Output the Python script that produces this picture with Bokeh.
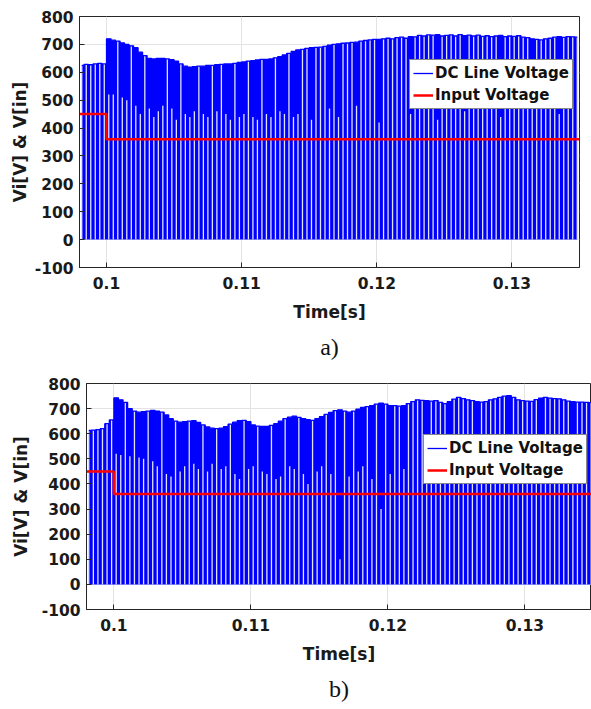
import numpy as np
from bokeh.plotting import figure
from bokeh.models import (Range1d, FixedTicker, Legend, LegendItem, Title)
from bokeh.embed import file_html
from bokeh.resources import INLINE

# ---------------- data ----------------
t_start = 0.098          # first switching slot [s]
period = 1.0 / 3000.0    # switching slot length [s]

# a) DC line voltage peak per switching slot (3 per ms), 0.098 .. 0.135 s
peak_a = [
    625, 628, 627,  630, 632, 630,  720, 715, 712,  705, 700, 695,
    688, 672, 660,  650, 648, 650,  650, 648, 645,  640, 630, 622,
    618, 620, 622,  622, 625, 625,  627, 628, 630,  630, 632, 635,
    637, 640, 642,  644, 646, 646,  648, 652, 656,  662, 668, 675,
    680, 682, 686,  688, 689, 690,  693, 697, 700,  702, 704, 705,
    707, 708, 712,  714, 716, 718,  718, 720, 722,  720, 724, 726,
    722, 728, 727,  732, 730, 734,  733, 735, 730,  732, 734, 730,
    735, 731, 733,  730, 733, 729,  731, 728, 730,  732, 728, 730,
    729, 731, 726,  724, 720, 718,  716, 720, 722,  726, 728, 725,
    728, 727, 726,
]
# a) intermediate level reached inside a slot (0 = falls straight to zero)
dip_a = [
    0, 0, 0,  0, 0, 0,  520, 520, 0,  510, 500, 0,
    480, 450, 0,  470, 440, 460,  480, 0, 470,  430, 0, 450,
    440, 460, 0,  450, 440, 0,  460, 0, 450,  430, 0, 440,
    450, 0, 440,  430, 0, 450,  440, 0, 460,  450, 0, 440,
    450, 0, 0,  430, 0, 0,  0, 470, 0,  440, 0, 0,
    0, 480, 0,  0, 0, 0,  420, 0, 0,  0, 0, 0,
    0, 450, 0,  0, 0, 0,  0, 430, 0,  0, 0, 0,
    0, 460, 0,  0, 0, 0,  0, 0, 0,  440, 0, 0,
    0, 0, 0,  0, 470, 0,  0, 0, 0,  0, 450, 0,
    0, 0, 0,
]

# b) DC line voltage peak per switching slot
peak_b = [
    613, 614, 616,  620, 640, 655,  743, 735, 725,  700, 690, 686,
    688, 690, 693,  690, 686, 675,  660, 650, 646,  648, 650, 652,
    645, 635, 627,  622, 620, 622,  628, 638, 646,  652, 653, 648,
    635, 630, 629,  629, 633, 640,  650, 660, 666,  670, 665, 660,
    656, 653, 660,  668, 677, 685,  692, 695, 690,  686, 690, 698,
    705, 708, 712,  718, 722, 718,  712, 712, 710,  712, 720, 728,
    735, 733, 732,  730, 732, 725,  720, 728, 738,  745, 740, 735,
    732, 728, 726,  728, 735, 739,  745, 750, 752,  745, 735, 732,
    730, 729, 736,  742, 745, 742,  740, 739, 735,  730, 728, 726,
    726, 725, 724,
]
dip_b = [
    0, 0, 0,  0, 0, 0,  520, 515, 0,  510, 0, 505,
    500, 0, 490,  470, 0, 440,  430, 0, 450,  470, 0, 480,
    460, 0, 450,  480, 0, 460,  470, 0, 440,  420, 0, 460,
    470, 0, 450,  440, 0, 420,  430, 0, 470,  460, 0, 440,
    400, 0, 450,  470, 0, 440,  0, 100, 0,  430, 0, 450,
    470, 0, 420,  0, 300, 0,  440, 0, 0,  460, 0, 0,
    0, 0, 450,  0, 0, 0,  0, 460, 0,  0, 0, 0,
    0, 450, 0,  0, 0, 0,  0, 0, 470,  0, 0, 0,
    0, 0, 0,  460, 0, 0,  0, 0, 0,  0, 440, 0,
    0, 0, 0,
]

# Input voltage step
input_t = [0.098, 0.100, 0.135]
input_v = [450, 360, 360]

x_ticks = [0.10, 0.11, 0.12, 0.13]
x_tick_labels = ["0.1", "0.11", "0.12", "0.13"]
y_ticks = [-100, 0, 100, 200, 300, 400, 500, 600, 700, 800]
y_tick_labels = ["-100", "0", "100", "200", "300", "400", "500", "600", "700", "800"]

BLUE = "#0000ff"
RED = "#ff0000"
AX = "#262626"
FONT = "DejaVu Sans"


def make_panel(peaks, dips, width, height, borders, x_end, ylab_standoff,
               legend_loc, tag):
    n = len(peaks)
    t = t_start + (np.arange(n) + 0.5) * period
    peaks = np.array(peaks, dtype=float)
    dips = np.array(dips, dtype=float)
    gap_top = np.where(dips > 0, dips, peaks)

    left, right, top, bottom = borders
    p = figure(width=width, height=height, output_backend="svg",
               toolbar_location=None,
               x_range=Range1d(0.098, x_end), y_range=Range1d(-100, 800),
               min_border_left=left, min_border_right=right,
               min_border_top=top, min_border_bottom=bottom)
    p.background_fill_color = "white"
    p.border_fill_color = "white"
    p.outline_line_color = AX
    p.outline_line_width = 1

    # blue switching waveform
    p.varea_step(x=t, y1=np.zeros(n), y2=peaks, step_mode="center",
                 fill_color=BLUE)
    p.segment(x0=t, y0=np.zeros(n), x1=t, y1=gap_top,
              line_color="#dfe2ff", line_width=1.3)
    env = p.step(x=t, y=peaks, mode="center", line_color=BLUE, line_width=1.3)
    red = p.step(x=input_t, y=input_v, mode="after", line_color=RED,
                 line_width=2.5)

    # axes
    p.xaxis.ticker = FixedTicker(ticks=x_ticks)
    p.xaxis.major_label_overrides = {k: v for k, v in zip(x_ticks, x_tick_labels)}
    p.yaxis.ticker = FixedTicker(ticks=y_ticks)
    p.yaxis.major_label_overrides = {k: v for k, v in zip(y_ticks, y_tick_labels)}
    p.xaxis.minor_tick_line_color = None
    p.yaxis.minor_tick_line_color = None
    for ax in (p.xaxis[0], p.yaxis[0]):
        ax.major_tick_in = 5
        ax.major_tick_out = 0
        ax.axis_line_color = AX
        ax.major_tick_line_color = AX
        ax.major_label_text_font = FONT
        ax.major_label_text_font_style = "bold"
        ax.major_label_text_font_size = "15.5px"
        ax.major_label_text_color = "#1a1a1a"
        ax.axis_label_text_font = FONT
        ax.axis_label_text_font_style = "bold"
        ax.axis_label_text_font_size = "17px"
        ax.axis_label_text_color = "#1a1a1a"
    p.xaxis.axis_label = "Time[s]"
    p.yaxis.axis_label = "Vi[V] & V[in]"
    p.xaxis.major_label_standoff = 9
    p.yaxis.major_label_standoff = 6
    p.xaxis.axis_label_standoff = 10
    p.yaxis.axis_label_standoff = ylab_standoff

    p.xgrid.ticker = FixedTicker(ticks=x_ticks)
    p.ygrid.ticker = FixedTicker(ticks=y_ticks)
    p.grid.grid_line_color = "#e3e3e3"
    p.grid.grid_line_width = 1

    legend = Legend(items=[LegendItem(label="DC Line Voltage", renderers=[env]),
                           LegendItem(label="Input Voltage", renderers=[red])],
                    location=legend_loc)
    legend.border_line_color = "#111111"
    legend.border_line_width = 1
    legend.background_fill_color = "white"
    legend.background_fill_alpha = 1
    legend.label_text_font = FONT
    legend.label_text_font_style = "bold"
    legend.label_text_font_size = "15px"
    legend.label_text_color = "#111111"
    legend.glyph_width = 20
    legend.glyph_height = 20
    legend.label_height = 20
    legend.label_standoff = 2
    legend.padding = 3
    legend.spacing = 2
    legend.margin = 0
    p.add_layout(legend)

    p.add_layout(Title(text=tag, align="center", text_font="Liberation Serif",
                       text_font_style="normal", text_font_size="24px",
                       text_color="#111111", standoff=14), "below")
    return p


p1 = make_panel(peak_a, dip_a, 591, 370, (79, 12, 16, 103), 0.135, 2,
                (330, 158), "a)")
p2 = make_panel(peak_b, dip_b, 591, 339, (86, 0, 13, 100), 0.13486, 8,
                (337, 125), "b)")

open("out.html", "w").write(file_html([p1, p2], INLINE))
